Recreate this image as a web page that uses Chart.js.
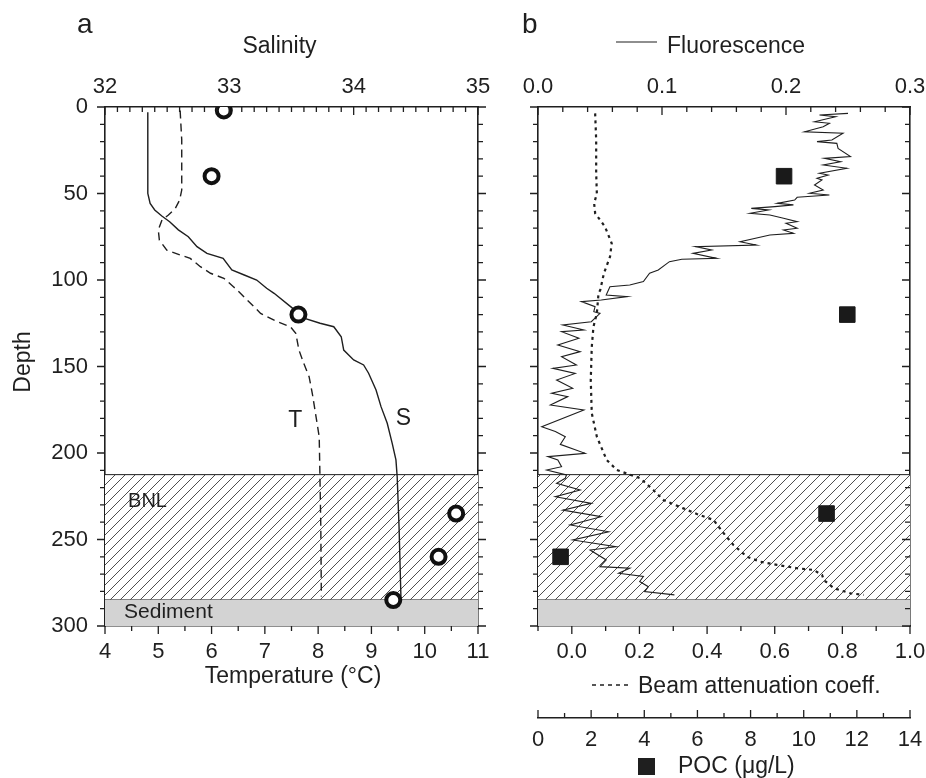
<!DOCTYPE html>
<html><head><meta charset="utf-8">
<script src="https://cdn.jsdelivr.net/npm/chart.js@4.4.0/dist/chart.umd.min.js"></script>
<style>
html,body{margin:0;padding:0;background:#fff;}
#wrap{position:relative;width:926px;height:778px;overflow:hidden;background:#fff;}
canvas{position:absolute;top:0;}
#ca{left:0;} #cb{left:505px;}
</style></head><body>
<div id="wrap"><canvas id="ca" width="505" height="778"></canvas><canvas id="cb" width="421" height="778"></canvas></div>
<script>
// ---------------- DATA ----------------
// Panel a: salinity profile (depth m, salinity)
const salinityDepth = [3,20,40,50,55.7,59.5,63,66.3,71,75,80.7,84.6,87.5,94.2,97.1,100,104.8,107.7,116.4,122.1,125,127,132.8,140.5,146.2,149.1,153.9,163.6,173.2,182.8,194.4,204,213.7,242.6,283];
const salinity = [32.344,32.344,32.344,32.345,32.363,32.40,32.457,32.52,32.59,32.67,32.74,32.82,32.95,33.02,33.12,33.22,33.30,33.36,33.51,33.60,33.73,33.84,33.90,33.92,34.00,34.08,34.12,34.18,34.22,34.27,34.31,34.34,34.35,34.365,34.38];
// Panel a: temperature profile (depth m, deg C)
const temperatureDepth = [2,19,48,53.8,58.6,62.4,65.3,71.1,76.9,82.7,85.5,87.5,92.3,96.1,99,103.9,105.8,111.6,119.3,124.1,127,130.8,140.5,148.2,155.9,165.5,177,190.6,207,242.6,283];
const temperature = [5.41,5.44,5.44,5.40,5.32,5.19,5.07,5.00,5.02,5.16,5.41,5.60,5.79,5.98,6.23,6.41,6.48,6.67,6.92,7.23,7.48,7.58,7.64,7.73,7.83,7.89,7.95,8.02,8.03,8.05,8.06];
// Panel a: open circles (bottle samples, read on temperature axis)
const circleDepth = [2,40,120,235,260,285];
const circleTemp = [6.23,6.0,7.63,10.59,10.26,9.41];
// Panel b: fluorescence profile
const fluorDepth = [3.7,4.6,5.6,8.5,9.4,11.4,14.3,15.2,19.1,20,21,23.9,28.7,29.7,31.6,33.5,35.4,38.3,39.3,41.2,42.2,45.1,48,49.9,50.9,52.2,53.8,55.7,56.6,57.6,58.6,59.5,61.4,62.4,64.3,66.3,67.2,70.1,71.1,73,74,77.9,79.8,80.7,82.7,84.6,87.5,88,89.4,94.2,96.1,100.9,102.9,103.9,108.7,109.6,111.6,112.5,115.4,118.3,119.3,124.1,126,128.9,129.9,133.7,137.6,141.4,144.3,149.1,151.1,154,157.8,162.6,165.5,167.4,172.3,175.1,184.8,187.6,190.6,195,200.2,202.1,204,207.9,209.8,212.7,214.6,217.5,221.4,225.3,229.1,233,236.8,241.6,245.5,250.3,254.2,256.1,261.8,265.7,266.6,269.5,271.4,274.3,277.3,280.1,282];
const fluorescence = [0.250,0.227,0.240,0.223,0.235,0.230,0.215,0.246,0.237,0.225,0.241,0.242,0.252,0.231,0.244,0.230,0.249,0.227,0.234,0.225,0.229,0.223,0.230,0.219,0.235,0.209,0.207,0.193,0.206,0.191,0.172,0.186,0.171,0.187,0.198,0.209,0.200,0.209,0.198,0.206,0.187,0.163,0.176,0.127,0.140,0.125,0.144,0.116,0.106,0.097,0.090,0.085,0.074,0.058,0.055,0.072,0.051,0.035,0.046,0.045,0.050,0.043,0.020,0.037,0.019,0.033,0.016,0.034,0.019,0.031,0.012,0.030,0.015,0.028,0.011,0.024,0.010,0.037,0.003,0.014,0.022,0.018,0.038,0.008,0.016,0.019,0.007,0.023,0.022,0.015,0.034,0.014,0.043,0.020,0.051,0.026,0.057,0.028,0.063,0.042,0.055,0.050,0.074,0.065,0.085,0.082,0.089,0.086,0.110];
// Panel b: beam attenuation coefficient
const beamDepth = [3.7,19,38,50,55.7,61.4,69.2,78.8,86.5,96.1,105.8,107.7,119.3,127,138.6,157.8,177,190.6,204,209.8,212.4,214.6,221.4,227.2,232,235.3,238.7,246.4,253.2,260,262.8,264.7,266.6,267.6,270.5,273.4,278.2,281.1,282];
const beam = [0.069,0.072,0.072,0.074,0.066,0.069,0.098,0.118,0.113,0.095,0.084,0.079,0.074,0.064,0.059,0.056,0.059,0.074,0.103,0.133,0.170,0.202,0.241,0.271,0.330,0.370,0.419,0.449,0.478,0.518,0.557,0.607,0.666,0.715,0.740,0.745,0.775,0.824,0.863];
// Panel b: POC (ug/L)
const pocDepth = [40,120,235,260];
const poc = [9.26,11.64,10.86,0.85];
// Layers (depth)
const bnlTop = 212.5;
const sedimentTop = 284.5;
const depthMax = 300;

// ---------------- STYLE ----------------
const FONT = "'Liberation Sans', Arial, Helvetica, sans-serif";
const INK = '#1f1f1f';
Chart.defaults.font.family = FONT;
Chart.defaults.font.size = 22;
Chart.defaults.color = INK;

const zip = (ys, xs) => ys.map((y, i) => ({x: xs[i], y}));

function hatchPattern() {
  const c = document.createElement('canvas');
  c.width = 10; c.height = 10;
  const g = c.getContext('2d');
  g.fillStyle = '#fff'; g.fillRect(0, 0, 10, 10);
  g.strokeStyle = '#3a3a3a'; g.lineWidth = 0.9;
  g.beginPath();
  g.moveTo(-1, 11); g.lineTo(11, -1);
  g.moveTo(-1, 1); g.lineTo(1, -1);
  g.moveTo(9, 11); g.lineTo(11, 9);
  g.stroke();
  return g.createPattern(c, 'repeat');
}

const fixW = w => s => { s.width = w; s.paddingTop = 0; s.paddingBottom = 0; s.paddingLeft = 0; s.paddingRight = 0; };
const fixH = h => s => { s.height = h; s.paddingTop = 0; s.paddingBottom = 0; s.paddingLeft = 0; s.paddingRight = 0; };
const border = {display: true, color: INK, width: 1.6};
const grid = {display: true, drawOnChartArea: false, drawTicks: false};

// tick marks (major + minor) drawn along the library's scales
function makeTickPlugin(axes) {
  return {
    id: 'tickMarks',
    afterDraw(chart) {
      const ctx = chart.ctx;
      axes.forEach(a => {
        const s = chart.scales[a.id];
        if (!s) return;
        ctx.save();
        ctx.strokeStyle = INK; ctx.lineWidth = 1.3;
        const n = Math.round((s.max - s.min) / a.minor);
        ctx.beginPath();
        for (let i = 0; i <= n; i++) {
          const v = s.min + i * a.minor;
          const r = v / a.major;
          const major = Math.abs(r - Math.round(r)) < 1e-6;
          const len = (major ? 8 : 5) * a.dir;
          const p = s.getPixelForValue(v);
          if (s.isHorizontal()) {
            const b = a.edge === 'top' ? s.top : s.bottom;
            ctx.moveTo(p, b); ctx.lineTo(p, b + len);
          } else {
            const b = a.edge === 'left' ? s.left : s.right;
            ctx.moveTo(b, p); ctx.lineTo(b + len, p);
          }
        }
        ctx.stroke();
        ctx.restore();
      });
    }
  };
}

function makeTextPlugin(items, samples) {
  return {
    id: 'textLabels',
    afterDraw(chart) {
      const ctx = chart.ctx;
      items.forEach(t => {
        ctx.save();
        ctx.font = (t.size || 23) + 'px ' + FONT;
        ctx.fillStyle = INK;
        ctx.textAlign = t.align || 'left';
        ctx.textBaseline = 'alphabetic';
        let x = t.x, y = t.y;
        if (t.at) {
          const xs = chart.scales[t.at.xs], ys = chart.scales.y;
          if (xs && ys) { x = xs.getPixelForValue(t.at.x); y = ys.getPixelForValue(t.at.y); }
        }
        ctx.translate(x, y);
        if (t.rot) ctx.rotate(t.rot);
        ctx.fillText(t.text, 0, 0);
        ctx.restore();
      });
      (samples || []).forEach(s => {
        ctx.save();
        ctx.strokeStyle = INK; ctx.fillStyle = INK;
        if (s.kind === 'line' || s.kind === 'dots') {
          ctx.lineWidth = s.kind === 'line' ? 1.1 : 1.6;
          ctx.setLineDash(s.kind === 'dots' ? [4, 4] : []);
          ctx.beginPath(); ctx.moveTo(s.x1, s.y); ctx.lineTo(s.x2, s.y); ctx.stroke();
        } else if (s.kind === 'square') {
          const w = s.x2 - s.x1;
          ctx.fillRect(s.x1, s.y - w / 2, w, w);
        }
        ctx.restore();
      });
    }
  };
}

const hatch = hatchPattern();
const commonOpts = {
  responsive: false, animation: false, devicePixelRatio: 1,
  events: [],
};
const depthAxis = (pos, w, labels) => ({
  type: 'linear', position: pos, min: 0, max: depthMax, reverse: true,
  border, grid,
  ticks: {display: labels, stepSize: 50, padding: 17, autoSkip: false},
  afterFit: fixW(w)
});

// ---------------- PANEL A ----------------
try {
new Chart(document.getElementById('ca'), {
  type: 'scatter',
  plugins: [
    makeTickPlugin([
      {id: 'y', minor: 10, major: 50, edge: 'right', dir: -1},
      {id: 'y2', minor: 10, major: 50, edge: 'left', dir: 1},
      {id: 'x', minor: 0.5, major: 1, edge: 'top', dir: 1},
      {id: 'x2', minor: 0.1, major: 1, edge: 'bottom', dir: 1}
    ]),
    makeTextPlugin([
      {text: 'a', x: 77, y: 33, size: 28},
      {text: 'Salinity', x: 279.5, y: 53, align: 'center'},
      {text: 'Temperature (°C)', x: 293, y: 683, align: 'center'},
      {text: 'Depth', x: 30, y: 362, align: 'center', rot: -Math.PI / 2},
      {text: 'T', at: {xs: 'x', x: 7.44, y: 185}},
      {text: 'S', at: {xs: 'x', x: 9.457, y: 183.8}},
      {text: 'BNL', at: {xs: 'x', x: 4.433, y: 231.2}, size: 20},
      {text: 'Sediment', at: {xs: 'x', x: 4.358, y: 295.4}, size: 21}
    ], [])
  ],
  data: {
    datasets: [
      {label: 'Sediment', data: [{x: 4, y: sedimentTop}, {x: 11, y: sedimentTop}], xAxisID: 'x', showLine: true,
       fill: {value: depthMax}, backgroundColor: '#d3d3d3', borderColor: INK, borderWidth: 1, pointRadius: 0, order: 10},
      {label: 'BNL', data: [{x: 4, y: bnlTop}, {x: 11, y: bnlTop}], xAxisID: 'x', showLine: true,
       fill: {value: sedimentTop}, backgroundColor: hatch, borderColor: INK, borderWidth: 1, pointRadius: 0, order: 9},
      {label: 'Temperature', data: zip(temperatureDepth, temperature), xAxisID: 'x', showLine: true,
       borderColor: INK, borderWidth: 1.4, borderDash: [8, 5], pointRadius: 0, fill: false, tension: 0, order: 2},
      {label: 'Salinity', data: zip(salinityDepth, salinity), xAxisID: 'x2', showLine: true,
       borderColor: INK, borderWidth: 1.4, pointRadius: 0, fill: false, tension: 0, order: 1},
      {label: 'Samples', data: zip(circleDepth, circleTemp), xAxisID: 'x', showLine: false,
       pointRadius: 7, pointBorderWidth: 4, pointBorderColor: '#111', pointBackgroundColor: '#fff', order: 0}
    ]
  },
  options: {
    ...commonOpts,
    layout: {padding: {left: 0, right: 27, top: 0, bottom: 72}},
    plugins: {legend: {display: false}, tooltip: {enabled: false}},
    scales: {
      y: depthAxis('left', 105, true),
      y2: depthAxis('right', 0, false),
      x: {type: 'linear', position: 'bottom', min: 4, max: 11, border, grid,
          ticks: {stepSize: 1, padding: 13, autoSkip: false}, afterFit: fixH(80)},
      x2: {type: 'linear', position: 'top', min: 32, max: 35, border, grid,
           ticks: {stepSize: 1, padding: 7, autoSkip: false}, afterFit: fixH(107)}
    }
  }
});
} catch (e) { console.error(e); }

// ---------------- PANEL B ----------------
try {
new Chart(document.getElementById('cb'), {
  type: 'scatter',
  plugins: [
    makeTickPlugin([
      {id: 'y', minor: 10, major: 50, edge: 'right', dir: -1},
      {id: 'y2', minor: 10, major: 50, edge: 'left', dir: -1},
      {id: 'xb', minor: 0.1, major: 0.2, edge: 'top', dir: 1},
      {id: 'xp', minor: 1, major: 2, edge: 'top', dir: -1},
      {id: 'xf', minor: 0.02, major: 0.1, edge: 'bottom', dir: 1}
    ]),
    makeTextPlugin([
      {text: 'b', x: 17, y: 33, size: 28},
      {text: 'Fluorescence', x: 162, y: 53},
      {text: 'Beam attenuation coeff.', x: 133, y: 693},
      {text: 'POC (μg/L)', x: 173, y: 773}
    ], [
      {kind: 'line', x1: 111, x2: 152, y: 42},
      {kind: 'dots', x1: 87, x2: 125, y: 685},
      {kind: 'square', x1: 133, x2: 150, y: 766.5}
    ])
  ],
  data: {
    datasets: [
      {label: 'Sediment', data: [{x: -0.1, y: sedimentTop}, {x: 1.0, y: sedimentTop}], xAxisID: 'xb', showLine: true,
       fill: {value: depthMax}, backgroundColor: '#d3d3d3', borderColor: INK, borderWidth: 1, pointRadius: 0, order: 10},
      {label: 'BNL', data: [{x: -0.1, y: bnlTop}, {x: 1.0, y: bnlTop}], xAxisID: 'xb', showLine: true,
       fill: {value: sedimentTop}, backgroundColor: hatch, borderColor: INK, borderWidth: 1, pointRadius: 0, order: 9},
      {label: 'Beam attenuation coeff.', data: zip(beamDepth, beam), xAxisID: 'xb', showLine: true,
       borderColor: INK, borderWidth: 2.2, borderDash: [3, 4], pointRadius: 0, fill: false, tension: 0, order: 2},
      {label: 'Fluorescence', data: zip(fluorDepth, fluorescence), xAxisID: 'xf', showLine: true,
       borderColor: INK, borderWidth: 1.1, pointRadius: 0, fill: false, tension: 0, order: 1},
      {label: 'POC (μg/L)', data: zip(pocDepth, poc), xAxisID: 'xp', showLine: false,
       pointStyle: 'rect', pointRadius: 11, pointBorderWidth: 1, pointBorderColor: '#1a1a1a', pointBackgroundColor: '#1a1a1a', order: 0}
    ]
  },
  options: {
    ...commonOpts,
    layout: {padding: {left: 0, right: 16, top: 0, bottom: 0}},
    plugins: {legend: {display: false}, tooltip: {enabled: false}},
    scales: {
      y: depthAxis('left', 33, false),
      y2: depthAxis('right', 0, false),
      xf: {type: 'linear', position: 'top', min: 0, max: 0.3, border, grid,
           ticks: {stepSize: 0.1, padding: 7, autoSkip: false, callback: v => Number(v).toFixed(1)}, afterFit: fixH(107)},
      xb: {type: 'linear', position: 'bottom', min: -0.1, max: 1.0, weight: 0, border, grid,
           ticks: {stepSize: 0.2, includeBounds: false, padding: 13, autoSkip: false, callback: v => Number(v).toFixed(1)}, afterFit: fixH(92)},
      xp: {type: 'linear', position: 'bottom', min: 0, max: 14, weight: 1, border, grid,
           ticks: {stepSize: 2, padding: 9, autoSkip: false}, afterFit: fixH(60)}
    }
  }
});
} catch (e) { console.error(e); }
</script>
</body></html>
